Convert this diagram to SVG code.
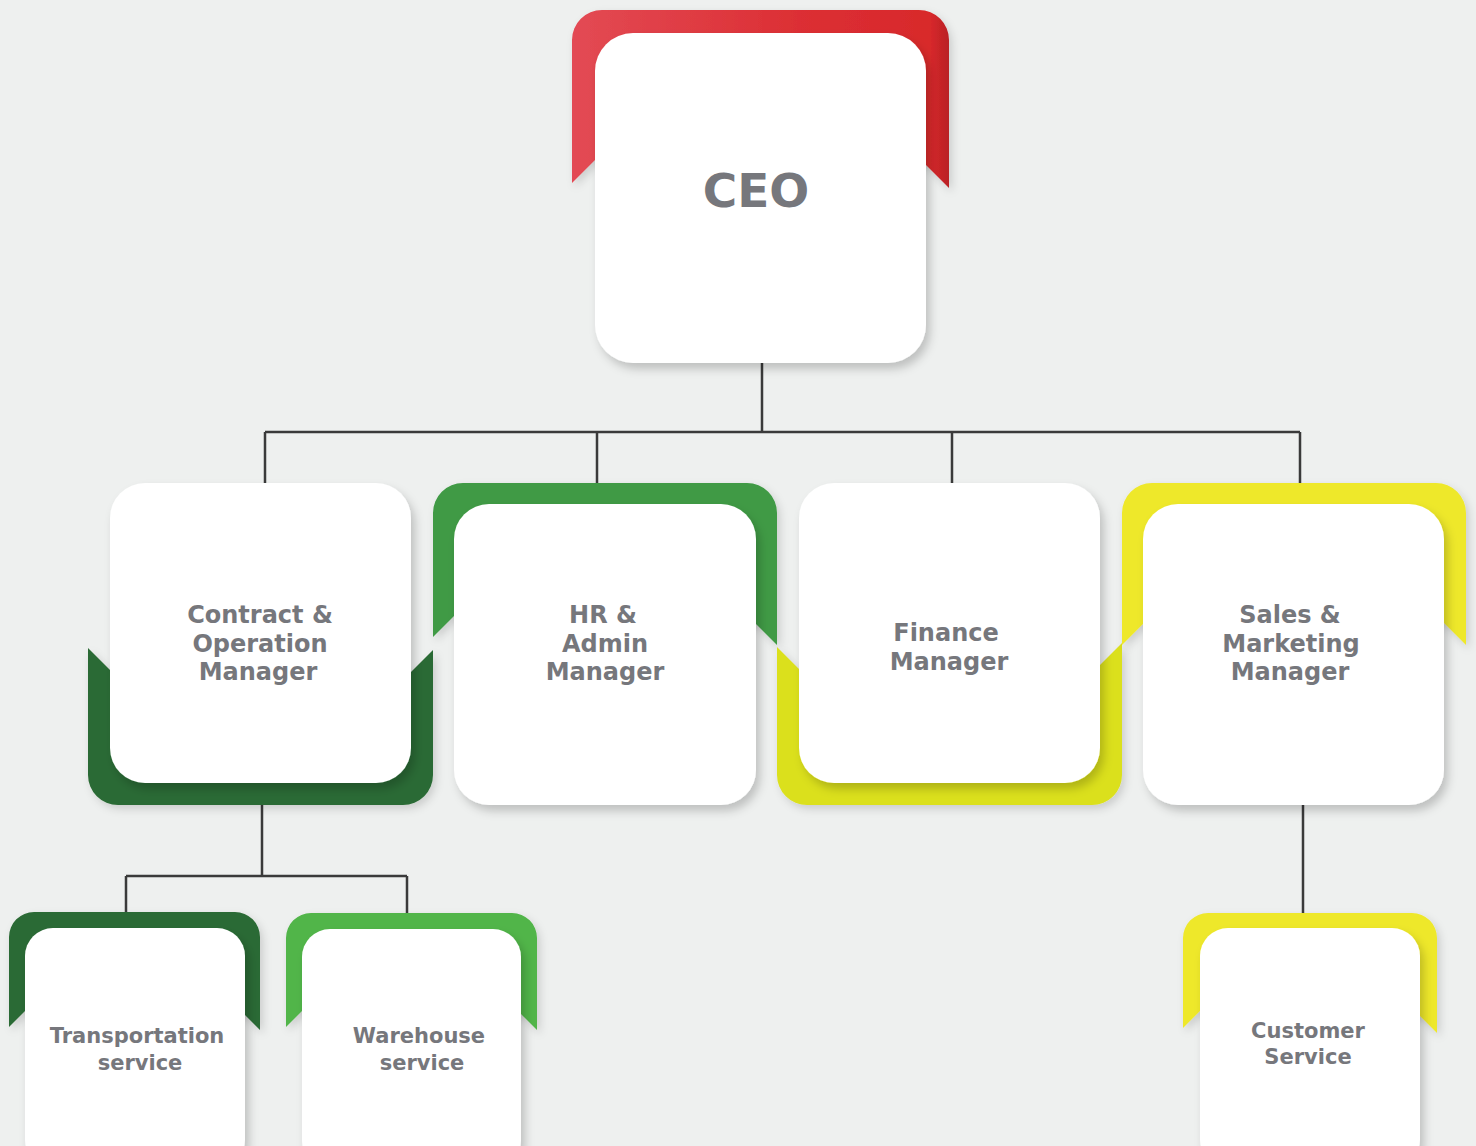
<svg xmlns="http://www.w3.org/2000/svg" width="1476" height="1146" viewBox="0 0 1476 1146">
  <defs>
    <filter id="sh" x="-10%" y="-10%" width="125%" height="125%">
      <feDropShadow dx="4" dy="6" stdDeviation="5" flood-color="#000" flood-opacity="0.2"/>
    </filter>
    <filter id="shb" x="-10%" y="-10%" width="125%" height="125%">
      <feDropShadow dx="3" dy="4" stdDeviation="4" flood-color="#000" flood-opacity="0.15"/>
    </filter>
    <linearGradient id="red" x1="0" y1="0" x2="1" y2="0">
      <stop offset="0" stop-color="#e34a54"/>
      <stop offset="0.6" stop-color="#dc2f34"/>
      <stop offset="0.95" stop-color="#d8292b"/>
      <stop offset="1" stop-color="#b92025"/>
    </linearGradient>
    <style>
      .card { fill: #ffffff; filter: url(#sh); }
      .band { filter: url(#shb); }
      .lbl { font-family: "DejaVu Sans", Inter, "Liberation Sans", sans-serif; font-weight: 700; fill: #76777c; text-anchor: middle; }
      .big { font-size: 24px; }
      .small { font-size: 21px; }
      .conn { fill: none; stroke: #3a3a3a; stroke-width: 2.5; }
    </style>
  </defs>
  <rect x="0" y="0" width="1476" height="1146" fill="#eef0ef"/>

  <g id="connectors">
    <path class="conn" d="M762,363 V432 M265,432 H1300 M265,432 V483 M597,432 V484 M952,432 V484 M1300,432 V484"/>
    <path class="conn" d="M262,805 V876 M126,876 H407 M126,876 V913 M407,876 V914"/>
    <path class="conn" d="M1303,805 V914"/>
  </g>

  <g id="ceo">
    <path class="band" fill="url(#red)" d="M572,183 V40 A30,30 0 0 1 602,10 H919 A30,30 0 0 1 949,40 V188 L925,164 L595,160 Z"/>
    <rect class="card" x="595" y="33" width="331" height="330" rx="38"/>
    <text class="lbl" x="756" y="207" font-size="47">CEO</text>
  </g>

  <g id="contract-operation">
    <path class="band" fill="#2c6b35" d="M88,648 L110,670 L411,672 L433,650 V775 A30,30 0 0 1 403,805 H118 A30,30 0 0 1 88,775 Z"/>
    <rect class="card" x="110" y="483" width="301" height="300" rx="35"/>
    <text class="lbl big" x="260" y="623">Contract &amp;</text>
    <text class="lbl big" x="260" y="652">Operation</text>
    <text class="lbl big" x="258" y="680">Manager</text>
  </g>

  <g id="hr-admin">
    <path class="band" fill="#3f9a45" d="M433,637 V513 A30,30 0 0 1 463,483 H747 A30,30 0 0 1 777,513 V645 L756,624 L454,616 Z"/>
    <rect class="card" x="454" y="504" width="302" height="301" rx="35"/>
    <text class="lbl big" x="603" y="623">HR &amp;</text>
    <text class="lbl big" x="605" y="652">Admin</text>
    <text class="lbl big" x="605" y="680">Manager</text>
  </g>

  <g id="finance">
    <path class="band" fill="#dbe01f" d="M777,647 L799,669 L1100,665 L1122,643 V775 A30,30 0 0 1 1092,805 H807 A30,30 0 0 1 777,775 Z"/>
    <rect class="card" x="799" y="483" width="301" height="300" rx="35"/>
    <text class="lbl big" x="946" y="641">Finance</text>
    <text class="lbl big" x="949" y="670">Manager</text>
  </g>

  <g id="sales-marketing">
    <path class="band" fill="#eee82b" d="M1122,645 V513 A30,30 0 0 1 1152,483 H1436 A30,30 0 0 1 1466,513 V645 L1444,623 L1143,624 Z"/>
    <rect class="card" x="1143" y="504" width="301" height="301" rx="35"/>
    <text class="lbl big" x="1290" y="623">Sales &amp;</text>
    <text class="lbl big" x="1291" y="652">Marketing</text>
    <text class="lbl big" x="1290" y="680">Manager</text>
  </g>

  <g id="transportation">
    <path class="band" fill="#2b6a35" d="M9,1027 V937 A25,25 0 0 1 34,912 H235 A25,25 0 0 1 260,937 V1030 L245,1015 L25,1011 Z"/>
    <rect class="card" x="25" y="928" width="220" height="240" rx="28"/>
    <text class="lbl small" x="137" y="1043">Transportation</text>
    <text class="lbl small" x="140" y="1070">service</text>
  </g>

  <g id="warehouse">
    <path class="band" fill="#51b548" d="M286,1027 V938 A25,25 0 0 1 311,913 H512 A25,25 0 0 1 537,938 V1030 L521,1014 L302,1011 Z"/>
    <rect class="card" x="302" y="929" width="219" height="240" rx="28"/>
    <text class="lbl small" x="419" y="1043">Warehouse</text>
    <text class="lbl small" x="422" y="1070">service</text>
  </g>

  <g id="customer-service">
    <path class="band" fill="#eee82b" d="M1183,1028 V938 A25,25 0 0 1 1208,913 H1412 A25,25 0 0 1 1437,938 V1033 L1420,1016 L1200,1011 Z"/>
    <rect class="card" x="1200" y="928" width="220" height="240" rx="28"/>
    <text class="lbl small" x="1308" y="1038">Customer</text>
    <text class="lbl small" x="1308" y="1064">Service</text>
  </g>
</svg>
